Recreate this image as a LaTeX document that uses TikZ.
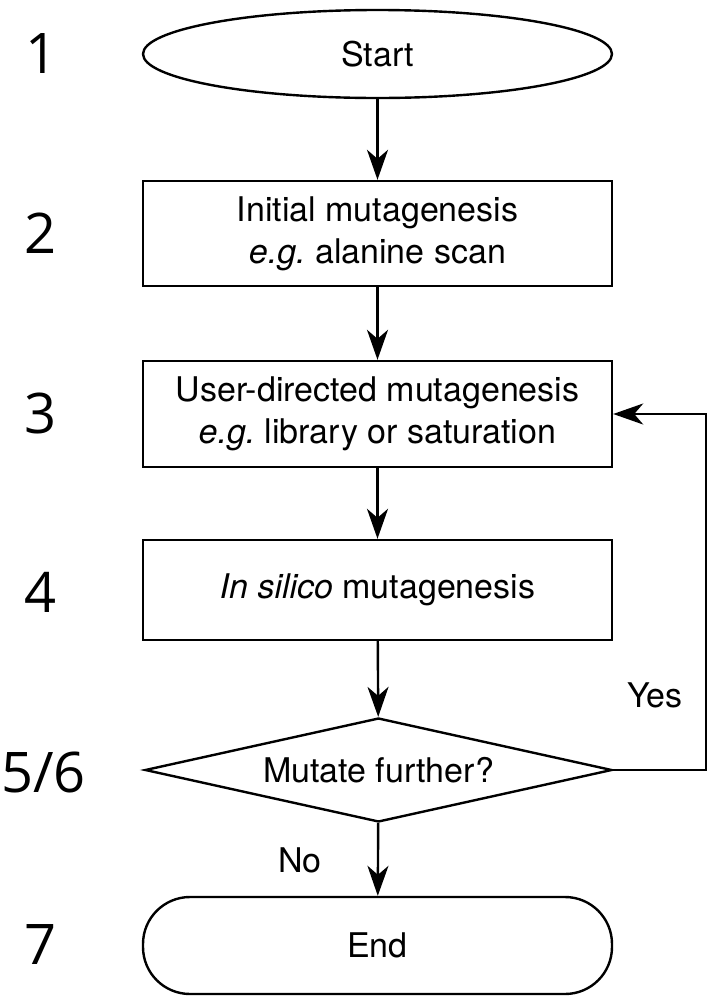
\documentclass[tikz,border=0pt]{standalone}
\usepackage{fontspec}
\setmainfont{TeX Gyre Heros}
\newfontfamily\numfont{Open Sans}
\usetikzlibrary{shapes.geometric,arrows.meta}

\begin{document}
\frenchspacing
\begin{tikzpicture}[x=1pt,y=-1pt,
        every node/.style={font=\fontsize{34}{42}\selectfont},
        flowline/.style={line width=2.4pt},
        arr/.style={flowline, -{Stealth[length=30pt,width=21pt,inset=9pt]}},
        stepbox/.style={draw, flowline, minimum width=469pt, minimum height=105pt, inner sep=0pt, align=center},
        num/.style={font=\numfont\fontsize{56}{60}\selectfont, inner sep=0pt}]
        \useasboundingbox (0,0) rectangle (708,1002);

        \node[draw, flowline, ellipse, minimum width=469pt, minimum height=88pt, inner sep=0pt] (start) at (377.5,54) {Start};
        \node[stepbox] (init) at (377.5,233.5) {Initial mutagenesis\\\textit{e.g.}\ alanine scan};
        \node[stepbox, minimum height=106pt] (user) at (377.5,414) {User-directed mutagenesis\\\textit{e.g.}\ library or saturation};
        \node[stepbox, minimum height=100pt] (silico) at (377.5,590) {\textit{In silico} mutagenesis};
        \node[draw, flowline, diamond, aspect=4.5, minimum width=467pt, minimum height=104pt, inner sep=0pt] (check) at (378.5,770) {Mutate further?};
        \node[draw, flowline, rectangle, rounded corners=47pt, minimum width=469pt, minimum height=97pt] (end) at (377.5,945.5) {End};

        \node[num] (n1) at (42,54) {1};
        \node[num] (n2) at (41,233) {2};
        \node[num] (n3) at (41,413) {3};
        \node[num] (n4) at (41,592) {4};
        \node[num, anchor=west] (n56) at (1,772) {5/6};
        \node[num] (n7) at (41,945) {7};

        \node (yes) at (655,695) {Yes};
        \node (no) at (300,860) {No};

        \coordinate (loop) at (706,770);

        \draw[arr] (start) -- (init);
        \draw[arr] (init) -- (user);
        \draw[arr] (user) -- (silico);
        \draw[arr] (silico) -- (check);
        \draw[arr] (check) -- (end);
        \draw[arr] (check.east) -- (loop) |- (user.east);
\end{tikzpicture}
\end{document}
